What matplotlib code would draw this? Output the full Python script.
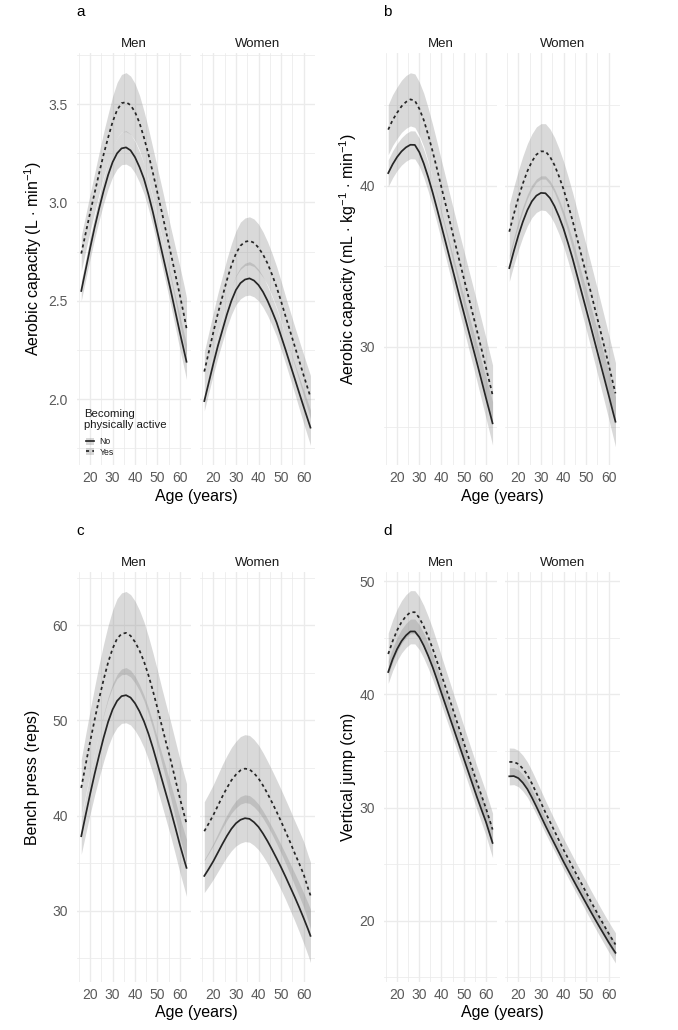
import numpy as np
import matplotlib
matplotlib.use("Agg")
import matplotlib.pyplot as plt
from matplotlib.lines import Line2D
from matplotlib.patches import Patch

plt.rcParams["font.family"] = ["Liberation Sans", "DejaVu Sans"]
plt.rcParams["mathtext.fontset"] = "custom"
plt.rcParams["mathtext.rm"] = "Liberation Sans"
plt.rcParams["mathtext.it"] = "Liberation Sans:italic"

W, H = 678, 1030

AGES = [16, 18, 20, 22, 24, 26, 28, 30, 32, 34, 36, 38, 40,
        42, 44, 46, 48, 50, 52, 54, 56, 58, 60, 62, 63]

# a: aerobic capacity (L/min)
VO2_MEN_NO = [2.55, 2.66, 2.77, 2.875, 2.97, 3.06, 3.14, 3.205, 3.25, 3.275, 3.28, 3.265, 3.23,
              3.18, 3.12, 3.04, 2.95, 2.85, 2.75, 2.65, 2.55, 2.445, 2.34, 2.24, 2.19]
VO2_MEN_NO_CI = [0.05, 0.052, 0.055, 0.058, 0.06, 0.065, 0.07, 0.075, 0.08, 0.083, 0.085, 0.083, 0.08,
                 0.078, 0.075, 0.072, 0.07, 0.07, 0.07, 0.072, 0.075, 0.08, 0.085, 0.088, 0.09]
VO2_MEN_YES = [2.74, 2.845, 2.95, 3.05, 3.15, 3.245, 3.33, 3.41, 3.47, 3.505, 3.51, 3.495, 3.46,
               3.405, 3.33, 3.245, 3.15, 3.05, 2.95, 2.845, 2.74, 2.635, 2.53, 2.42, 2.36]
VO2_MEN_YES_CI = [0.09, 0.092, 0.095, 0.1, 0.105, 0.112, 0.12, 0.13, 0.14, 0.146, 0.15, 0.148, 0.145,
                  0.14, 0.135, 0.13, 0.125, 0.125, 0.125, 0.127, 0.13, 0.137, 0.145, 0.152, 0.155]
VO2_WOMEN_NO = [1.99, 2.085, 2.18, 2.27, 2.35, 2.43, 2.50, 2.555, 2.59, 2.608, 2.614, 2.603, 2.58,
                2.545, 2.50, 2.447, 2.39, 2.32, 2.25, 2.177, 2.105, 2.032, 1.96, 1.89, 1.855]
VO2_WOMEN_NO_CI = [0.05, 0.052, 0.055, 0.058, 0.06, 0.065, 0.07, 0.075, 0.08, 0.083, 0.085, 0.083, 0.08,
                   0.078, 0.075, 0.072, 0.07, 0.07, 0.07, 0.072, 0.075, 0.08, 0.085, 0.088, 0.09]
VO2_WOMEN_YES = [2.14, 2.24, 2.34, 2.435, 2.52, 2.605, 2.68, 2.74, 2.78, 2.80, 2.805, 2.795, 2.77,
                 2.735, 2.69, 2.633, 2.57, 2.497, 2.42, 2.345, 2.27, 2.195, 2.12, 2.047, 2.01]
VO2_WOMEN_YES_CI = [0.10, 0.10, 0.10, 0.102, 0.105, 0.108, 0.11, 0.115, 0.12, 0.121, 0.122, 0.121, 0.12,
                    0.115, 0.11, 0.108, 0.105, 0.102, 0.10, 0.10, 0.10, 0.102, 0.105, 0.108, 0.11]

# b: aerobic capacity (mL/kg/min)
REL_MEN_NO = [40.8, 41.35, 41.8, 42.15, 42.4, 42.56, 42.55, 42.1, 41.4, 40.55, 39.6, 38.57, 37.5,
              36.43, 35.35, 34.28, 33.2, 32.15, 31.1, 30.05, 29.0, 27.93, 26.85, 25.8, 25.26]
REL_MEN_NO_CI = [0.83, 0.835, 0.84, 0.85, 0.86, 0.865, 0.87, 0.87, 0.87, 0.875, 0.88, 0.89, 0.9,
                 0.92, 0.95, 0.97, 1.0, 1.03, 1.07, 1.11, 1.15, 1.2, 1.25, 1.32, 1.35]
REL_MEN_YES = [43.5, 44.1, 44.55, 44.95, 45.22, 45.38, 45.3, 44.8, 44.1, 43.18, 42.15, 41.05, 39.9,
               38.78, 37.65, 36.52, 35.4, 34.3, 33.2, 32.1, 31.0, 29.88, 28.75, 27.6, 27.02]
REL_MEN_YES_CI = [1.55, 1.58, 1.6, 1.62, 1.64, 1.65, 1.66, 1.66, 1.66, 1.66, 1.66, 1.66, 1.66,
                  1.665, 1.67, 1.685, 1.7, 1.715, 1.73, 1.75, 1.77, 1.795, 1.82, 1.85, 1.86]
REL_WOMEN_NO = [34.9, 35.95, 36.92, 37.78, 38.5, 39.05, 39.4, 39.57, 39.55, 39.25, 38.75, 38.1, 37.35,
                36.45, 35.5, 34.45, 33.4, 32.35, 31.3, 30.22, 29.15, 28.08, 27.0, 25.9, 25.36]
REL_WOMEN_NO_CI = [0.83, 0.86, 0.9, 0.94, 0.98, 1.01, 1.04, 1.06, 1.08, 1.08, 1.08, 1.09, 1.1,
                   1.12, 1.15, 1.17, 1.2, 1.24, 1.28, 1.32, 1.37, 1.42, 1.47, 1.52, 1.55]
REL_WOMEN_YES = [37.16, 38.25, 39.25, 40.15, 40.92, 41.52, 41.95, 42.15, 42.15, 41.82, 41.3, 40.6, 39.8,
                 38.85, 37.85, 36.75, 35.65, 34.55, 33.45, 32.32, 31.2, 30.05, 28.9, 27.7, 27.12]
REL_WOMEN_YES_CI = [1.7, 1.7, 1.7, 1.705, 1.71, 1.715, 1.72, 1.72, 1.72, 1.72, 1.72, 1.725, 1.73,
                    1.74, 1.75, 1.76, 1.77, 1.785, 1.8, 1.82, 1.84, 1.86, 1.88, 1.895, 1.9]

# c: bench press (reps)
BENCH_MEN_NO = [37.83, 40.1, 42.3, 44.4, 46.35, 48.2, 49.85, 51.15, 52.05, 52.55, 52.65, 52.4, 51.8,
                50.95, 49.9, 48.6, 47.1, 45.45, 43.8, 42.15, 40.5, 38.75, 36.95, 35.3, 34.5]
BENCH_MEN_NO_CI = [1.9, 2.0, 2.1, 2.22, 2.35, 2.48, 2.6, 2.7, 2.8, 2.86, 2.9, 2.88, 2.85,
                   2.8, 2.75, 2.72, 2.7, 2.7, 2.7, 2.72, 2.75, 2.82, 2.9, 2.96, 3.0]
BENCH_MEN_YES = [42.9, 45.4, 47.8, 50.1, 52.3, 54.3, 56.1, 57.55, 58.6, 59.1, 59.2, 58.9, 58.25,
                 57.35, 56.2, 54.75, 53.1, 51.3, 49.4, 47.55, 45.75, 43.8, 41.85, 40.05, 39.16]
BENCH_MEN_YES_CI = [3.0, 3.15, 3.3, 3.45, 3.6, 3.75, 3.9, 4.05, 4.2, 4.3, 4.35, 4.33, 4.3,
                    4.23, 4.15, 4.07, 4.0, 3.97, 3.95, 3.97, 4.0, 4.05, 4.1, 4.17, 4.2]
BENCH_WOMEN_NO = [33.65, 34.4, 35.2, 36.1, 37.0, 37.85, 38.6, 39.18, 39.55, 39.72, 39.65, 39.3, 38.8,
                  38.1, 37.3, 36.42, 35.5, 34.55, 33.55, 32.5, 31.45, 30.35, 29.2, 28.0, 27.35]
BENCH_WOMEN_NO_CI = [1.75, 1.82, 1.9, 2.0, 2.1, 2.2, 2.3, 2.38, 2.45, 2.46, 2.45, 2.43, 2.4,
                     2.38, 2.35, 2.35, 2.35, 2.37, 2.4, 2.45, 2.5, 2.57, 2.65, 2.75, 2.8]
BENCH_WOMEN_YES = [38.35, 39.18, 40.05, 41.02, 42.0, 42.9, 43.7, 44.3, 44.75, 44.93, 44.85, 44.45, 43.9,
                   43.15, 42.3, 41.37, 40.4, 39.37, 38.3, 37.2, 36.05, 34.95, 33.8, 32.3, 31.6]
BENCH_WOMEN_YES_CI = [3.1, 3.15, 3.2, 3.28, 3.35, 3.4, 3.45, 3.5, 3.55, 3.57, 3.57, 3.54, 3.5,
                      3.45, 3.4, 3.37, 3.35, 3.35, 3.35, 3.37, 3.4, 3.42, 3.45, 3.48, 3.5]

# d: vertical jump (cm)
JUMP_MEN_NO = [41.97, 43.1, 44.0, 44.7, 45.2, 45.55, 45.55, 45.05, 44.3, 43.4, 42.4, 41.28, 40.1,
               38.95, 37.8, 36.65, 35.5, 34.35, 33.2, 32.05, 30.9, 29.82, 28.75, 27.5, 26.88]
JUMP_MEN_NO_CI = [1.0, 1.015, 1.03, 1.05, 1.07, 1.09, 1.1, 1.1, 1.1, 1.09, 1.08, 1.065, 1.05,
                  1.04, 1.03, 1.025, 1.02, 1.03, 1.05, 1.07, 1.1, 1.15, 1.2, 1.27, 1.3]
JUMP_MEN_YES = [43.56, 44.7, 45.65, 46.38, 46.9, 47.25, 47.25, 46.75, 46.0, 45.08, 44.05, 42.9, 41.7,
                40.52, 39.35, 38.15, 36.95, 35.75, 34.55, 33.37, 32.2, 31.08, 29.95, 28.7, 28.06]
JUMP_MEN_YES_CI = [1.85, 1.87, 1.88, 1.89, 1.9, 1.9, 1.9, 1.88, 1.85, 1.8, 1.75, 1.7, 1.65,
                   1.6, 1.55, 1.52, 1.5, 1.47, 1.45, 1.44, 1.43, 1.43, 1.43, 1.44, 1.45]
JUMP_WOMEN_NO = [32.76, 32.78, 32.6, 32.19, 31.63, 30.89, 30.08, 29.24, 28.4, 27.6, 26.81, 26.02, 25.22,
                 24.48, 23.73, 22.99, 22.27, 21.55, 20.83, 20.13, 19.44, 18.77, 18.1, 17.48, 17.18]
JUMP_WOMEN_NO_CI = [0.76, 0.755, 0.75, 0.735, 0.72, 0.71, 0.7, 0.69, 0.68, 0.67, 0.66, 0.66, 0.66,
                    0.665, 0.67, 0.685, 0.7, 0.72, 0.74, 0.76, 0.78, 0.81, 0.84, 0.88, 0.9]
JUMP_WOMEN_YES = [34.03, 34.03, 33.85, 33.44, 32.88, 32.13, 31.29, 30.43, 29.57, 28.75, 27.93, 27.1, 26.28,
                  25.52, 24.76, 24.0, 23.27, 22.52, 21.75, 21.02, 20.29, 19.58, 18.88, 18.22, 17.91]
JUMP_WOMEN_YES_CI = [1.23, 1.215, 1.2, 1.175, 1.15, 1.125, 1.1, 1.075, 1.05, 1.025, 1.0, 0.99, 0.98,
                     0.975, 0.97, 0.97, 0.97, 0.975, 0.98, 0.99, 1.0, 1.01, 1.02, 1.028, 1.03]

LINE = "#262626"
RIBBON = "#8c8c8c"
GRID = "#ebebeb"
TICK = "#5a5a5a"
DASH = (0, (1.8, 1.8))


def px_axes(fig, x0, x1, y0, y1):
    """Axes from pixel box (top-left origin)."""
    return fig.add_axes([x0 / W, 1 - y1 / H, (x1 - x0) / W, (y1 - y0) / H])


def style_facet(ax, ylim, major, minor, show_y):
    ax.set_xlim(14.1, 65.0)
    ax.set_ylim(*ylim)
    ax.set_xticks([20, 30, 40, 50, 60])
    ax.set_xticks([15, 25, 35, 45, 55, 65], minor=True)
    ax.set_yticks(major)
    ax.set_yticks(minor, minor=True)
    ax.grid(which="major", color=GRID, lw=0.95, zorder=0)
    ax.grid(which="minor", color=GRID, lw=0.55, zorder=0)
    ax.set_axisbelow(True)
    for s in ax.spines.values():
        s.set_visible(False)
    ax.tick_params(which="both", length=0, labelsize=10, labelcolor=TICK)
    ax.tick_params(axis="x", pad=4.5)
    ax.tick_params(axis="y", pad=6.5)
    if not show_y:
        ax.tick_params(labelleft=False)


def draw_facet(ax, no_mean, no_ci, yes_mean, yes_ci):
    for mean, ci in ((no_mean, no_ci), (yes_mean, yes_ci)):
        m = np.array(mean)
        c = np.array(ci)
        ax.fill_between(AGES, m - c, m + c, color=RIBBON, alpha=0.33, lw=0, zorder=2)
    ax.plot(AGES, no_mean, color=LINE, lw=1.25, zorder=3)
    ax.plot(AGES, yes_mean, color=LINE, lw=1.25, linestyle=DASH, zorder=3)


fig = plt.figure(figsize=(W / 100, H / 100), dpi=100)

panels = [
    # letter, facet columns (px), rows (px), ylim, major, minor, ylabel, men, women
    ("a", (77, 191, 200, 315), (53, 465), (1.665, 3.76), [2.0, 2.5, 3.0, 3.5],
     [1.75, 2.25, 2.75, 3.25, 3.75], r"Aerobic capacity (L $\cdot$ min$^{-1}$)",
     (VO2_MEN_NO, VO2_MEN_NO_CI, VO2_MEN_YES, VO2_MEN_YES_CI),
     (VO2_WOMEN_NO, VO2_WOMEN_NO_CI, VO2_WOMEN_YES, VO2_WOMEN_YES_CI)),
    ("b", (384, 497, 505, 620), (53, 465), (22.67, 48.26), [30, 40], [25, 35, 45],
     r"Aerobic capacity (mL $\cdot$ kg$^{-1}$ $\cdot$ min$^{-1}$)",
     (REL_MEN_NO, REL_MEN_NO_CI, REL_MEN_YES, REL_MEN_YES_CI),
     (REL_WOMEN_NO, REL_WOMEN_NO_CI, REL_WOMEN_YES, REL_WOMEN_YES_CI)),
    ("c", (77, 191, 200, 315), (572, 982), (22.5, 65.6), [30, 40, 50, 60],
     [25, 35, 45, 55, 65], "Bench press (reps)",
     (BENCH_MEN_NO, BENCH_MEN_NO_CI, BENCH_MEN_YES, BENCH_MEN_YES_CI),
     (BENCH_WOMEN_NO, BENCH_WOMEN_NO_CI, BENCH_WOMEN_YES, BENCH_WOMEN_YES_CI)),
    ("d", (384, 497, 505, 620), (572, 982), (14.6, 50.8), [20, 30, 40, 50],
     [15, 25, 35, 45], "Vertical jump (cm)",
     (JUMP_MEN_NO, JUMP_MEN_NO_CI, JUMP_MEN_YES, JUMP_MEN_YES_CI),
     (JUMP_WOMEN_NO, JUMP_WOMEN_NO_CI, JUMP_WOMEN_YES, JUMP_WOMEN_YES_CI)),
]

first_ax = None
for letter, cols, rows, ylim, major, minor, ylabel, men, women in panels:
    mx0, mx1, wx0, wx1 = cols
    top, bottom = rows
    ax_m = px_axes(fig, mx0, mx1, top, bottom)
    ax_w = px_axes(fig, wx0, wx1, top, bottom)
    style_facet(ax_m, ylim, major, minor, True)
    style_facet(ax_w, ylim, major, minor, False)
    draw_facet(ax_m, *men)
    draw_facet(ax_w, *women)
    ax_m.set_title("Men", fontsize=9.5, color="#1a1a1a", pad=4.5)
    ax_w.set_title("Women", fontsize=9.5, color="#1a1a1a", pad=4.5)

    # panel letter and shared axis titles
    fig.text((mx0 - 1) / W, 1 - (top - 41) / H, letter, fontsize=11, ha="left", va="center")
    fig.text((mx0 + wx1) / 2 / W, 1 - (bottom + 31) / H, "Age (years)",
             fontsize=11.5, ha="center", va="center")
    ylab_x = 33 if letter in "ac" else 348
    fig.text(ylab_x / W, 1 - (top + bottom) / 2 / H, ylabel, fontsize=11.5,
             rotation=90, ha="center", va="center")
    if first_ax is None:
        first_ax = ax_m

# legend inside the first panel (title drawn as plain text)
first_ax.text(0.061, 0.110, "Becoming\nphysically active", transform=first_ax.transAxes,
              fontsize=8.2, color="#1a1a1a", ha="left", va="center", linespacing=1.15)
handles = [
    (Patch(facecolor=RIBBON, alpha=0.33, lw=0), Line2D([], [], color=LINE, lw=1.25)),
    (Patch(facecolor=RIBBON, alpha=0.33, lw=0), Line2D([], [], color=LINE, lw=1.25, linestyle=DASH)),
]
leg = first_ax.legend(
    handles, ["No", "Yes"], loc="center left", bbox_to_anchor=(0.075, 0.044),
    frameon=False, fontsize=6.2, handlelength=1.0, handleheight=0.9,
    handletextpad=0.6, labelspacing=0.15, borderpad=0, borderaxespad=0,
)
for t in leg.get_texts():
    t.set_color("#1a1a1a")

fig.savefig("out.png", dpi=100)
